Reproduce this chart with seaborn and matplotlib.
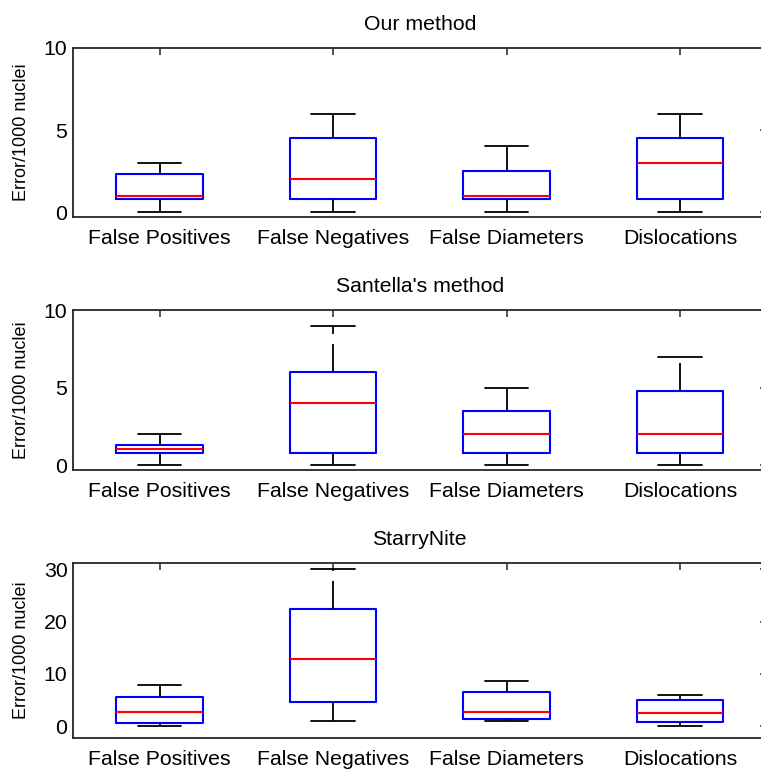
import pandas as pd
import numpy as np
import matplotlib.pyplot as plt
import seaborn as sns

categories = ['False Positives', 'False Negatives', 'False Diameters', 'Dislocations']
titles = ['Our method', "Santella's method", 'StarryNite']

# five-number summaries: whisker low, q1, median, q3, whisker high
ours_lo = [0, 0, 0, 0]
ours_q1 = [0.8, 0.8, 0.8, 0.8]
ours_med = [1.0, 2.0, 1.0, 3.0]
ours_q3 = [2.3, 4.5, 2.5, 4.5]
ours_hi = [3, 6, 4, 6]

santella_lo = [0, 0, 0, 0]
santella_q1 = [0.75, 0.8, 0.75, 0.75]
santella_med = [1.05, 4.0, 2.0, 2.0]
santella_q3 = [1.3, 6.0, 3.5, 4.8]
santella_hi = [2, 9, 5, 7]

starry_lo = [0, 1, 1, 0]
starry_q1 = [0.6, 4.7, 1.5, 0.9]
starry_med = [2.8, 12.9, 2.8, 2.5]
starry_q3 = [5.6, 22.4, 6.5, 5.0]
starry_hi = [7.9, 30, 8.7, 6.0]

y_limits = [(-0.3, 10), (-0.32, 10), (-2.2, 31.15)]
y_ticks = [[0, 5, 10], [0, 5, 10], [0, 10, 20, 30]]

summaries = [
    (ours_lo, ours_q1, ours_med, ours_q3, ours_hi),
    (santella_lo, santella_q1, santella_med, santella_q3, santella_hi),
    (starry_lo, starry_q1, starry_med, starry_q3, starry_hi),
]


def long_form(summary):
    # five points per category give exactly these quartiles with whis=(0, 100)
    rows = []
    for i, cat in enumerate(categories):
        for arr in summary:
            rows.append({'Category': cat, 'Error': arr[i]})
    return pd.DataFrame(rows)


sns.set_style('white')
plt.rcParams['font.family'] = ['Liberation Sans', 'DejaVu Sans']
plt.rcParams['text.color'] = 'black'
plt.rcParams['axes.labelcolor'] = 'black'

fig = plt.figure(figsize=(7.61, 7.70), dpi=100)

# axes boxes in figure fractions (left, bottom, width, height)
left, width = 73 / 761, 693.7 / 761
rects = [
    (left, 1 - 217 / 770, width, 169 / 770),
    (left, 1 - 470 / 770, width, 160 / 770),
    (left, 1 - 738 / 770, width, 175 / 770),
]

lw_whisk = 1.3
for summary, title, rect, ylim, yt in zip(summaries, titles, rects, y_limits, y_ticks):
    ax = fig.add_axes(rect)
    df = long_form(summary)
    sns.boxplot(data=df, x='Category', y='Error', order=categories, ax=ax,
                whis=(0, 100), width=0.5, fill=False, showfliers=False,
                boxprops=dict(color='#0000ff', linewidth=1.5),
                medianprops=dict(color='#ff0000', linewidth=1.5),
                whiskerprops=dict(color='black', linewidth=lw_whisk,
                                  linestyle=(0, (20.2 / lw_whisk, 7.2 / lw_whisk))),
                capprops=dict(color='black', linewidth=lw_whisk))
    ax.set_xlim(-0.5, 3.5)
    ax.set_ylim(*ylim)
    ax.set_yticks(yt)
    ax.set_xlabel('')
    ax.set_ylabel('Error/1000 nuclei', fontsize=13, labelpad=10)
    ax.set_title(title, fontsize=15.3, pad=13, color='black')
    ax.tick_params(direction='in', top=True, right=True, length=5, width=1.1,
                   labelsize=15.3, color='#262626', labelcolor='black')
    ax.tick_params(axis='x', pad=8.5)
    ax.tick_params(axis='y', pad=4)
    for sp in ax.spines.values():
        sp.set_visible(True)
        sp.set_color('#262626')
        sp.set_linewidth(1.3)

fig.savefig('out.png', dpi=100)
